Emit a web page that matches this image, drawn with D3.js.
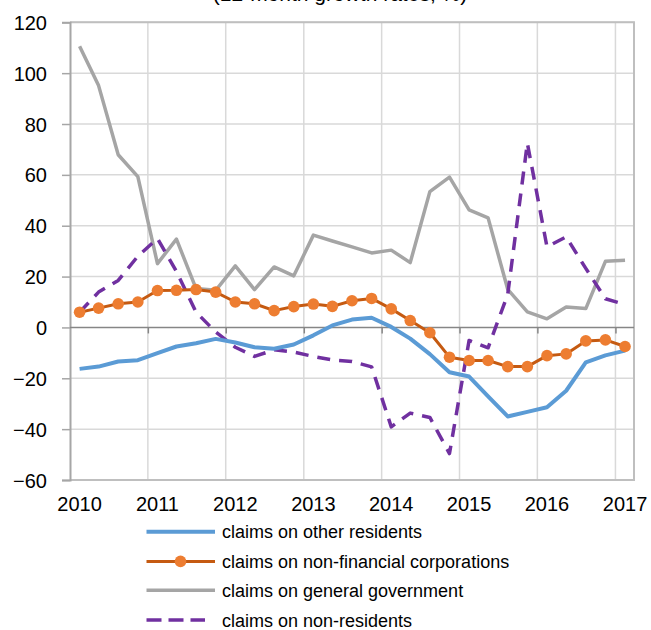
<!DOCTYPE html>
<html>
<head>
<meta charset="utf-8">
<script src="https://cdn.jsdelivr.net/npm/d3@7/dist/d3.min.js"></script>
<style>
  html, body { margin: 0; padding: 0; background: #fff; }
  svg { display: block; font-family: "Liberation Sans", Arial, sans-serif; }
</style>
</head>
<body>
<svg id="chart" width="651" height="630"></svg>
<script>
// ---- data ----
const title = "(12-month growth rates, %)";
const quarters = [
  "2010-02-15","2010-05-15","2010-08-15","2010-11-15",
  "2011-02-15","2011-05-15","2011-08-15","2011-11-15",
  "2012-02-15","2012-05-15","2012-08-15","2012-11-15",
  "2013-02-15","2013-05-15","2013-08-15","2013-11-15",
  "2014-02-15","2014-05-15","2014-08-15","2014-11-15",
  "2015-02-15","2015-05-15","2015-08-15","2015-11-15",
  "2016-02-15","2016-05-15","2016-08-15","2016-11-15",
  "2017-02-15"
];
const otherResidents = [-16.3,-15.4,-13.4,-12.9,-10.1,-7.5,-6.2,-4.5,-5.9,-7.8,-8.4,-6.7,-3.1,0.8,3.1,3.8,0.2,-4.4,-10.5,-17.6,-19.3,-27.1,-35.0,-33.2,-31.4,-24.9,-13.7,-11.0,-9.1];
const nonFinancialCorps = [6.0,7.6,9.3,10.0,14.5,14.6,14.9,13.9,10.0,9.3,6.6,8.2,9.2,8.3,10.5,11.4,7.3,2.7,-2.1,-11.7,-13.0,-13.0,-15.4,-15.4,-11.1,-10.4,-5.3,-4.9,-7.5];
const generalGovernment = [110.6,95.1,67.9,59.3,25.1,34.7,15.3,14.6,24.2,14.9,23.8,20.3,36.3,34.0,31.7,29.3,30.4,25.5,53.4,59.1,46.2,43.1,15.0,6.1,3.4,8.0,7.4,26.0,26.4];
const nonResidents = [6.0,13.9,18.5,28.0,35.0,22.0,6.0,-1.8,-7.8,-11.4,-8.8,-9.7,-11.4,-12.8,-13.4,-15.5,-39.1,-33.7,-35.4,-49.6,-5.1,-8.0,13.0,72.5,31.7,35.6,23.2,11.3,9.0];
const yTicks = [-60,-40,-20,0,20,40,60,80,100,120];
const yearLabels = ["2010","2011","2012","2013","2014","2015","2016","2017"];
const seriesNames = ["claims on other residents","claims on non-financial corporations","claims on general government","claims on non-residents"];

// ---- layout ----
const svg = d3.select("#chart");
const pL = 70, pR = 634, pT = 22.3, pB = 480;
const parse = d3.timeParse("%Y-%m-%d");
const dates = quarters.map(parse);

const x = d3.scaleTime()
  .domain([new Date(2010,0,1), new Date(2017,2,29)])
  .range([pL, pR]);
const y = d3.scaleLinear().domain([-60,120]).range([pB, pT]);

// title fragment (cut off at top, as in the reference)
svg.append("text").attr("x", 340).attr("y", 0.5).attr("text-anchor","middle")
  .attr("font-size", 21).attr("fill","#000").text(title);

// horizontal gridlines
svg.append("g").selectAll("line").data(yTicks.filter(d => d !== 0 && d !== -60)).join("line")
  .attr("x1", pL).attr("x2", pR)
  .attr("y1", d => y(d)).attr("y2", d => y(d))
  .attr("stroke", "#d9d9d9").attr("stroke-width", 1.5);

// vertical gridlines at year boundaries
const yearStarts = yearLabels.map(s => new Date(+s, 0, 1));
svg.append("g").selectAll("line").data(yearStarts.slice(1)).join("line")
  .attr("x1", d => x(d)).attr("x2", d => x(d))
  .attr("y1", pT).attr("y2", pB)
  .attr("stroke", "#d9d9d9").attr("stroke-width", 1.5);

// plot border (top, right, bottom)
svg.append("path")
  .attr("d", `M${pL},${pT}H${pR}V${pB}H${pL}`)
  .attr("fill","none").attr("stroke","#bfbfbf").attr("stroke-width",2);

// y axis
const yAxis = d3.axisLeft(y).tickValues(yTicks).tickSize(8).tickPadding(15).tickFormat(d3.format("d"));
const gy = svg.append("g").attr("transform", `translate(${pL},0)`).call(yAxis);
gy.select(".domain").attr("stroke","#a6a6a6").attr("stroke-width",2);
gy.selectAll(".tick line").attr("stroke","#a6a6a6").attr("stroke-width",1.5);
gy.selectAll(".tick text").attr("font-size",20).attr("fill","#000")
  .attr("font-family","Liberation Sans, Arial, sans-serif").attr("dy","0.35em");

// x axis at zero with downward ticks at year boundaries
const xAxis = d3.axisBottom(x).tickValues(yearStarts.slice(1)).tickSize(6).tickFormat("");
const gx = svg.append("g").attr("transform", `translate(0,${y(0)})`).call(xAxis);
gx.select(".domain").attr("stroke","#868686").attr("stroke-width",1.5).attr("d", `M${pL},0H${pR}`);
gx.selectAll(".tick line").attr("stroke","#868686").attr("stroke-width",1.5);

// x labels at the bottom (centered on first quarter of each year)
svg.append("g").selectAll("text").data(yearLabels).join("text")
  .attr("x", d => x(parse(d + "-02-15")))
  .attr("y", 510.7).attr("text-anchor","middle")
  .attr("font-size",20).attr("fill","#000").text(d => d);

// lines
const line = vals => d3.line().x((d,i) => x(dates[i])).y(d => y(d))(vals);

svg.append("path").attr("d", line(generalGovernment))
  .attr("fill","none").attr("stroke","#a5a5a5").attr("stroke-width",3.5).attr("stroke-linejoin","round");
svg.append("path").attr("d", line(nonResidents))
  .attr("fill","none").attr("stroke","#7030a0").attr("stroke-width",3.5)
  .attr("stroke-dasharray","13,9").attr("stroke-linejoin","round");
svg.append("path").attr("d", line(otherResidents))
  .attr("fill","none").attr("stroke","#5b9bd5").attr("stroke-width",4).attr("stroke-linejoin","round");
svg.append("path").attr("d", line(nonFinancialCorps))
  .attr("fill","none").attr("stroke","#c55a11").attr("stroke-width",3).attr("stroke-linejoin","round");
svg.append("g").selectAll("circle").data(nonFinancialCorps).join("circle")
  .attr("cx", (d,i) => x(dates[i])).attr("cy", d => y(d)).attr("r", 5.8)
  .attr("fill","#ed7d31");

// legend
const legY = [531.7, 561.4, 590.3, 620];
const lg = svg.append("g");
const styles = [
  {stroke:"#5b9bd5", w:4, dash:null, marker:false},
  {stroke:"#c55a11", w:3, dash:null, marker:true},
  {stroke:"#a5a5a5", w:3.5, dash:null, marker:false},
  {stroke:"#7030a0", w:3.5, dash:"15,7", marker:false}
];
seriesNames.forEach((name, i) => {
  const s = styles[i];
  const x2 = s.dash ? 205 : 215;
  lg.append("line").attr("x1",146.5).attr("x2",x2).attr("y1",legY[i]).attr("y2",legY[i])
    .attr("stroke",s.stroke).attr("stroke-width",s.w).attr("stroke-dasharray",s.dash);
  if (s.marker) lg.append("circle").attr("cx",180.5).attr("cy",legY[i]).attr("r",5.8).attr("fill","#ed7d31");
  lg.append("text").attr("x",222).attr("y",legY[i]+6.7).attr("font-size",18).attr("fill","#000").text(name);
});
</script>
</body>
</html>
